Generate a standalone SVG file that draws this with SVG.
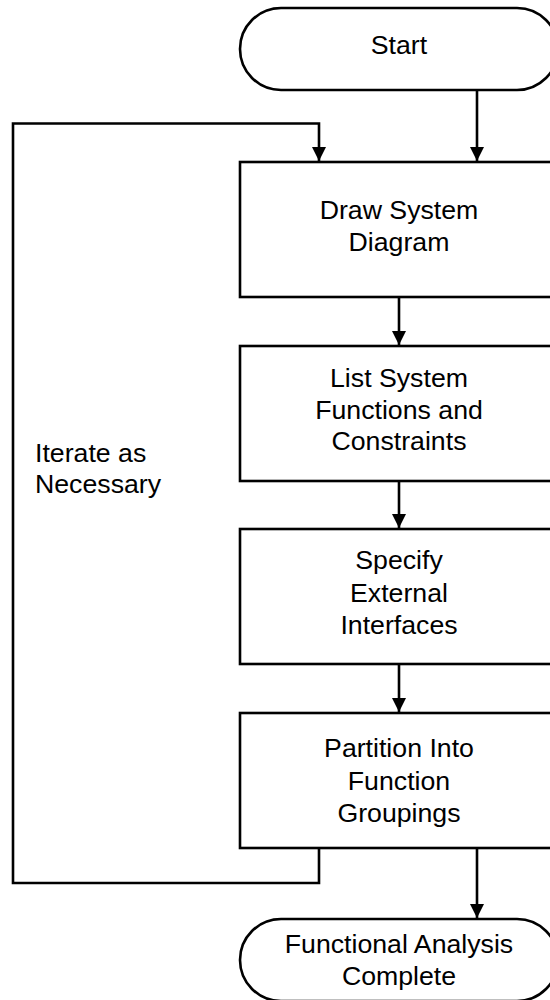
<svg xmlns="http://www.w3.org/2000/svg" width="550" height="1000" viewBox="0 0 550 1000">
<defs>
<marker id="arr" viewBox="0 0 14 15" refX="14" refY="7" markerWidth="14" markerHeight="15" markerUnits="userSpaceOnUse" orient="auto">
<path d="M0,0 L14,7 L0,14 Z" fill="#000"/>
</marker>
<style>
.shape{fill:#fff;stroke:#000;stroke-width:2.6}
.conn{fill:none;stroke:#000;stroke-width:2.6}
text{font-family:"Liberation Sans",Arial,sans-serif;font-size:26.7px;fill:#000}
.c{text-anchor:middle}
</style>
</defs>
<g id="connectors">
<path class="conn" d="M477,90 V161" marker-end="url(#arr)"/>
<path class="conn" d="M319,848 V883 H13 V123.5 H319 V161" marker-end="url(#arr)"/>
<path class="conn" d="M399,297 V345" marker-end="url(#arr)"/>
<path class="conn" d="M399,481 V528" marker-end="url(#arr)"/>
<path class="conn" d="M399,664 V712" marker-end="url(#arr)"/>
<path class="conn" d="M477,848 V918" marker-end="url(#arr)"/>
</g>
<g id="start">
<rect class="shape" x="240" y="8" width="318" height="82" rx="41" ry="41"/>
<text class="c" x="399" y="54">Start</text>
</g>
<g id="draw-system-diagram">
<rect class="shape" x="240" y="162" width="318" height="135"/>
<text class="c" x="399" y="219">Draw System</text>
<text class="c" x="399" y="251">Diagram</text>
</g>
<g id="list-system-functions">
<rect class="shape" x="240" y="346" width="318" height="135"/>
<text class="c" x="399" y="387">List System</text>
<text class="c" x="399" y="419">Functions and</text>
<text class="c" x="399" y="450">Constraints</text>
</g>
<g id="specify-external-interfaces">
<rect class="shape" x="240" y="529" width="318" height="135"/>
<text class="c" x="399" y="569">Specify</text>
<text class="c" x="399" y="602">External</text>
<text class="c" x="399" y="634">Interfaces</text>
</g>
<g id="partition-into-function-groupings">
<rect class="shape" x="240" y="713" width="318" height="135"/>
<text class="c" x="399" y="757">Partition Into</text>
<text class="c" x="399" y="790">Function</text>
<text class="c" x="399" y="822">Groupings</text>
</g>
<g id="functional-analysis-complete">
<rect class="shape" x="240" y="919" width="318" height="82" rx="41" ry="41"/>
<text class="c" x="399" y="953">Functional Analysis</text>
<text class="c" x="399" y="985">Complete</text>
</g>
<g id="iterate-label">
<text x="35" y="462">Iterate as</text>
<text x="35" y="493">Necessary</text>
</g>
</svg>
